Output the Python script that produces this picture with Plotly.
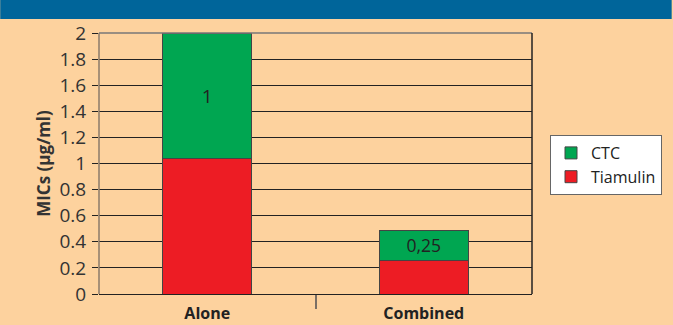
import plotly.graph_objects as go

categories = ["Alone", "Combined"]
tiamulin = [1.04, 0.26]
ctc = [0.96, 0.23]
ctc_labels = ["1", "0,25"]
y_ticks = [0, 0.2, 0.4, 0.6, 0.8, 1, 1.2, 1.4, 1.6, 1.8, 2]
y_ticktext = ["0", "0.2", "0.4", "0.6", "0.8", "1", "1.2", "1.4", "1.6", "1.8", "2"]

PEACH = "#FDD29E"
BLUE = "#00659A"
GREEN = "#00A651"
RED = "#ED1C24"
FONT = "Open Sans"

W, H = 673, 325
ML, MR, MT, MB = 99, 140, 33, 31
PW = W - ML - MR
PH = H - MT - MB

fig = go.Figure()
fig.add_trace(go.Bar(
    x=categories, y=tiamulin, name="Tiamulin", marker_color=RED,
    marker_line=dict(color="#444444", width=1), width=0.41,
))
fig.add_trace(go.Bar(
    x=categories, y=ctc, name="CTC", marker_color=GREEN,
    marker_line=dict(color="#444444", width=1), width=0.41,
    text=ctc_labels, textposition="inside", insidetextanchor="middle",
    textfont=dict(family=FONT, size=19, color="#222222"),
    hoverinfo="skip",
))
# invisible trace for the category-boundary tick on a second x axis
fig.add_trace(go.Scatter(x=[0.5], y=[0], xaxis="x2", mode="markers",
                         marker=dict(opacity=0), showlegend=False, hoverinfo="skip"))

fig.update_layout(
    width=W, height=H,
    margin=dict(l=ML, r=MR, t=MT, b=MB),
    paper_bgcolor=PEACH, plot_bgcolor=PEACH,
    barmode="stack",
    font=dict(family=FONT, size=17, color="#333333"),
    xaxis=dict(
        type="category", range=[-0.5, 1.5], automargin=False,
        showline=True, linecolor="#222222", linewidth=1, mirror=False,
        ticks="", showgrid=False,
        tickfont=dict(family=FONT, size=16, color="#222222", weight="bold"),
        ticklabelstandoff=5,
    ),
    xaxis2=dict(
        overlaying="x", range=[-0.5, 1.5], tickvals=[0.5], ticks="outside",
        ticklen=14, tickcolor="#7a6f65", tickwidth=2, showticklabels=False,
        showgrid=False, zeroline=False, showline=False, side="bottom", automargin=False,
    ),
    yaxis=dict(
        range=[0, 2], tickvals=y_ticks, ticktext=y_ticktext, automargin=False,
        ticks="outside", ticklen=6, tickcolor="#222222",
        showgrid=True, gridcolor="#222222", gridwidth=1,
        zeroline=False, showline=False,
        tickfont=dict(family=FONT, size=19, color="#333333"),
        ticklabelstandoff=2,
        title=dict(text="MICs (µg/ml)", font=dict(family=FONT, size=17, color="#333333", weight="bold"),
                   standoff=4),
    ),
    legend=dict(
        x=(550 - ML) / PW, y=(H - MB - 135) / PH, xanchor="left", yanchor="top",
        bgcolor="white", bordercolor="#666666", borderwidth=1,
        font=dict(family=FONT, size=16, color="#222222"),
        traceorder="reversed", itemwidth=30, tracegroupgap=2,
    ),
    shapes=[
        # blue header band
        dict(type="rect", xref="paper", yref="paper",
             x0=-ML / PW, x1=1 + MR / PW, y0=1 + (MT - 19) / PH, y1=1 + (MT + 5) / PH,
             fillcolor=BLUE, line=dict(width=0), layer="above"),
        # left frame line (grey)
        dict(type="line", xref="paper", yref="paper", x0=0, x1=0, y0=0, y1=1,
             line=dict(color="#8a7a6a", width=1.5)),
        # top frame line (grey)
        dict(type="line", xref="paper", yref="paper", x0=0, x1=1, y0=1, y1=1,
             line=dict(color="#777777", width=1.5)),
        # right frame line
        dict(type="line", xref="paper", yref="paper", x0=1, x1=1, y0=0, y1=1,
             line=dict(color="#222222", width=1.5)),
    ],
    showlegend=True,
)

fig.write_html("out.html")
